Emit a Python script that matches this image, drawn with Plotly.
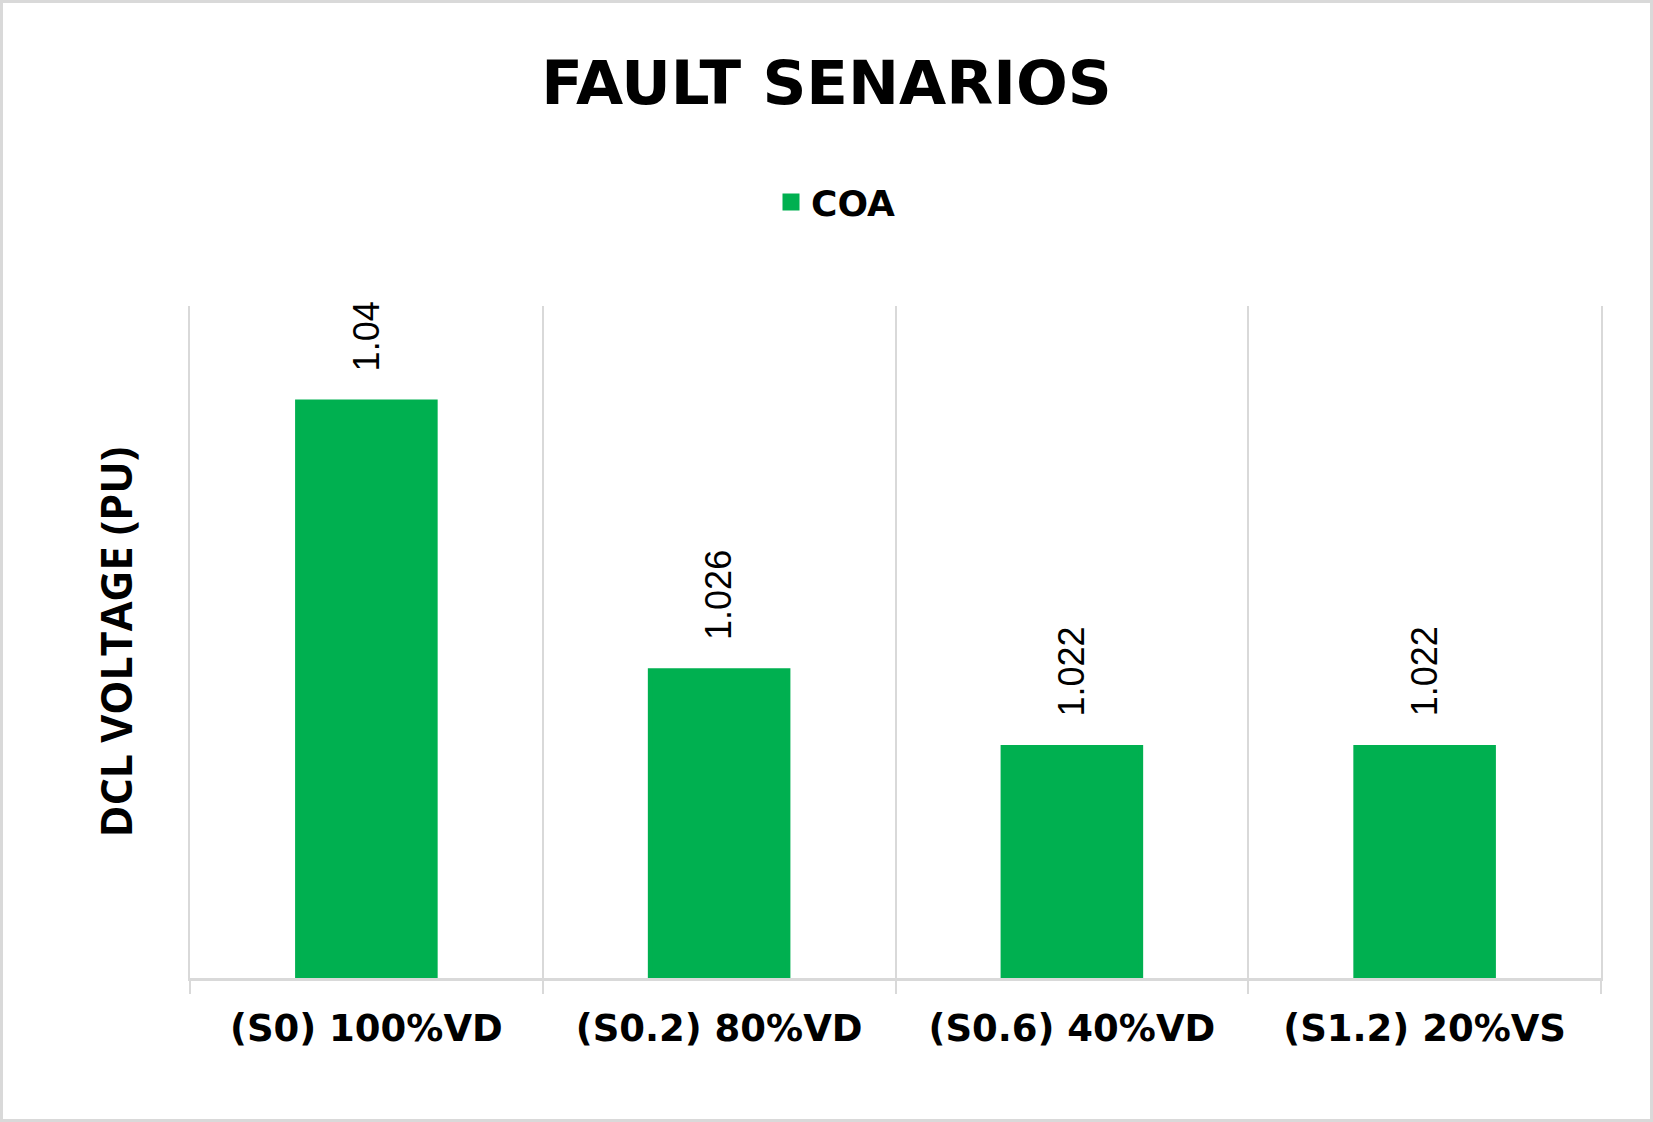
import plotly.graph_objects as go

# ---- data ----
categories = ["(S0) 100%VD", "(S0.2) 80%VD", "(S0.6) 40%VD", "(S1.2) 20%VS"]
coa_values = [1.04, 1.026, 1.022, 1.022]
value_labels = ["1.04", "1.026", "1.022", "1.022"]
series_name = "COA"
chart_title = "FAULT SENARIOS"
y_title = "DCL VOLTAGE (PU)"

# ---- layout constants ----
W, H = 1653, 1122
ML, MR, MT, MB = 190, 52, 306, 144
PW, PH = W - ML - MR, H - MT - MB
GREEN = "#00B050"
GRID = "#D9D9D9"

fig = go.Figure()
fig.add_trace(go.Bar(
    x=categories, y=coa_values, name=series_name,
    marker=dict(color=GREEN, line=dict(color=GREEN, width=5)),
    showlegend=True,
))

for cat, val, lab in zip(categories, coa_values, value_labels):
    fig.add_annotation(
        x=cat, y=val, xref="x", yref="y", text=lab, showarrow=False,
        textangle=-90, yanchor="bottom", xanchor="center", yshift=29,
        font=dict(family="Liberation Sans", size=36, color="#000000"),
    )

# chart-area border
def px_to_paper_x(px):
    return (px - ML) / PW

def px_to_paper_y(py):
    return (H - MB - py) / PH

fig.add_shape(
    type="rect", xref="paper", yref="paper",
    x0=px_to_paper_x(1.5), x1=px_to_paper_x(W - 1.5),
    y0=px_to_paper_y(H - 1.5), y1=px_to_paper_y(1.5),
    line=dict(color=GRID, width=3), fillcolor="rgba(0,0,0,0)", layer="below",
)

fig.update_layout(
    width=W, height=H,
    margin=dict(l=ML, r=MR, t=MT, b=MB, pad=0),
    paper_bgcolor="white", plot_bgcolor="white",
    bargap=0.61,
    title=dict(
        text=chart_title, x=0.5, xref="container", xanchor="center",
        y=1 - 82.5 / H, yref="container", yanchor="middle",
        font=dict(family="DejaVu Sans", size=61, color="#000000", weight="bold"),
    ),
    legend=dict(
        orientation="h", x=px_to_paper_x(836), xanchor="center",
        y=px_to_paper_y(202), yanchor="middle",
        font=dict(family="DejaVu Sans", size=36, color="#000000", weight="bold"),
        bgcolor="rgba(0,0,0,0)",
    ),
    xaxis=dict(
        type="category", tickson="boundaries",
        showgrid=True, gridcolor=GRID, gridwidth=2,
        showline=True, linecolor=GRID, linewidth=3,
        ticks="outside", ticklen=13, tickwidth=2, tickcolor=GRID,
        tickfont=dict(family="DejaVu Sans", size=37, color="#000000", weight="bold"),
        ticklabelstandoff=16, automargin=False,
    ),
    yaxis=dict(
        range=[1.01, 1.045], showgrid=False, zeroline=False,
        showline=True, mirror=True, linecolor=GRID, linewidth=2,
        showticklabels=False, ticks="",
        title=dict(text=y_title, standoff=42,
                   font=dict(family="Open Sans", size=43, color="#000000", weight="bold")),
        automargin=False,
    ),
)

fig.write_html("out.html", config={"displayModeBar": False},
               post_script="document.body.style.margin='0';")
